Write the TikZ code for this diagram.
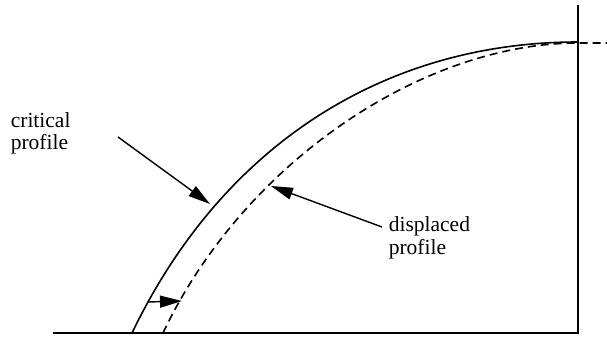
\documentclass[tikz,border=0pt]{standalone}
\usepackage{fontspec}
\setmainfont{Liberation Serif}
\usetikzlibrary{arrows.meta}
\tikzset{
  pointer/.style={-{Triangle[length=22pt,width=12pt]}, line width=1.4pt},
  tag/.style={anchor=base west, align=left, inner sep=0pt, font=\fontsize{21.5}{22.5}\selectfont}
}

\begin{document}
\begin{tikzpicture}[x=1pt, y=-1pt, line width=1.6pt]
  \useasboundingbox (0,0) rectangle (607,339);

  % Frame
  \coordinate (O) at (53,333);
  \coordinate (C) at (578,333);
  \coordinate (T) at (578,5);
  \draw (O) -- (C) -- (T);

  % Profiles
  \draw (132,333) .. controls (225,140) and (390,42) .. (578,42);
  \draw[dash pattern=on 8pt off 5pt] (163,333) .. controls (245,160) and (425,43) .. (578,43) -- (607,43);

  % Points on the profiles
  \coordinate (crit) at (210,204);
  \coordinate (disp) at (271,186);
  \coordinate (shiftA) at (148,302);
  \coordinate (shiftB) at (182,301);
  \coordinate (critfrom) at (118,137);
  \coordinate (dispfrom) at (382,227);

  % Labels
  \node[tag] (critlabel) at (10,150) {critical\\profile};
  \node[tag] (displabel) at (388,254) {displaced\\profile};

  % Arrows
  \draw[pointer] (critfrom) -- (crit);
  \draw[pointer] (dispfrom) -- (disp);
  \draw[pointer] (shiftA) -- (shiftB);
\end{tikzpicture}
\end{document}
